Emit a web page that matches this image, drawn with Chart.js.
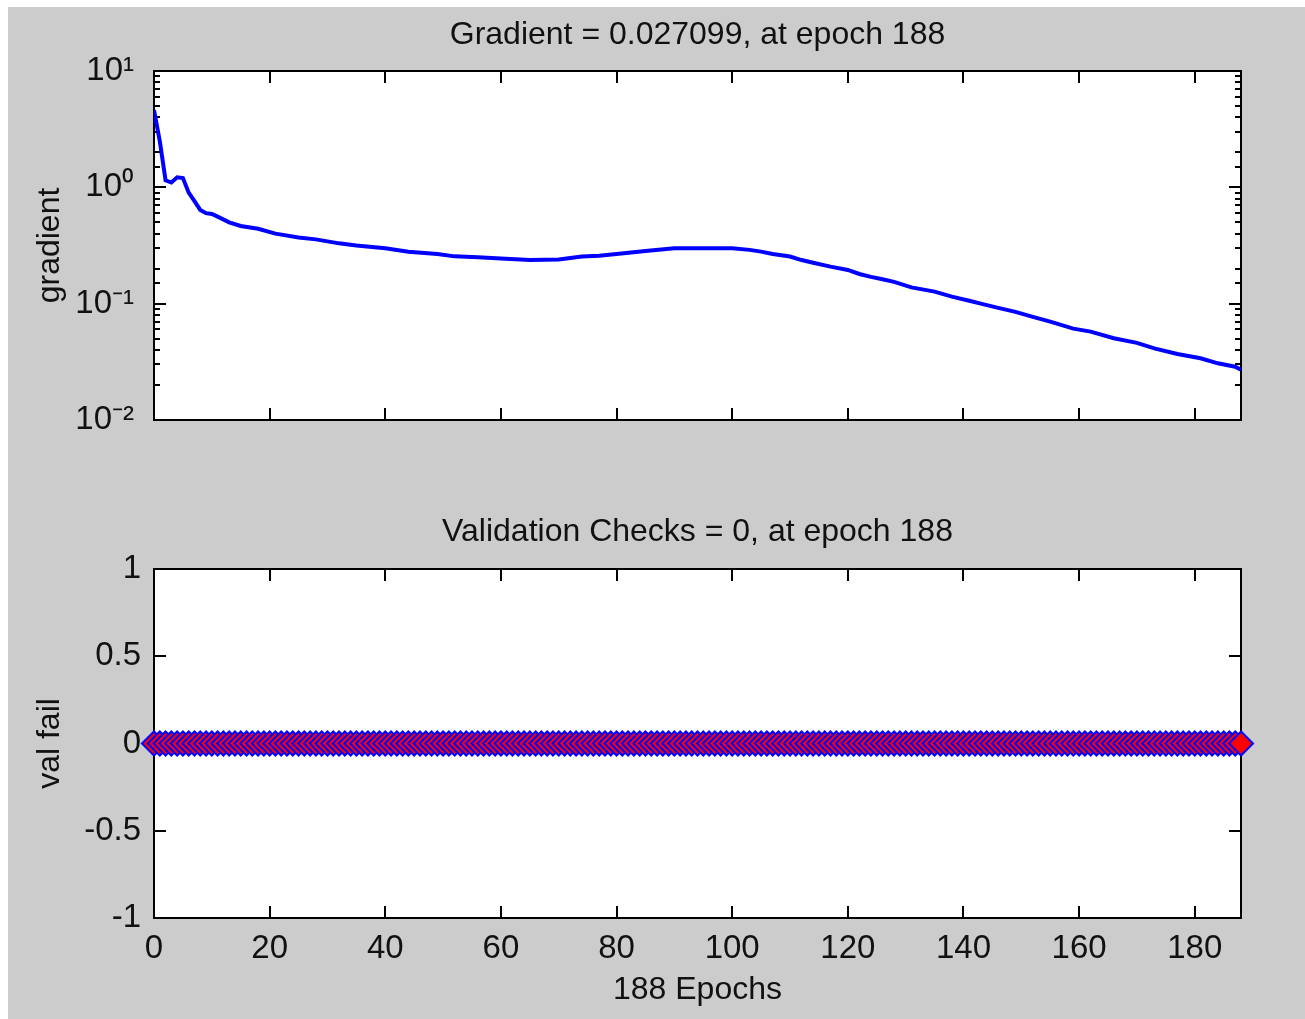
<!DOCTYPE html>
<html><head><meta charset="utf-8">
<script src="https://cdn.jsdelivr.net/npm/chart.js@4.4.1/dist/chart.umd.min.js"></script>
<style>
html,body{margin:0;padding:0;background:#fff;width:1305px;height:1019px;overflow:hidden;}
#bg{position:absolute;left:8px;top:7px;width:1297px;height:1012px;background:#cccccc;}
canvas{position:absolute;left:0;}
#c1{top:0px}
#c2{top:480px}
</style></head><body>
<div id="bg"></div>
<canvas id="c1" width="1305" height="480"></canvas>
<canvas id="c2" width="1305" height="539"></canvas>
<script>
// ---- data ----
const gradTitle = 'Gradient = 0.027099, at epoch 188';
const valTitle = 'Validation Checks = 0, at epoch 188';
const gradYLabel = 'gradient';
const valYLabel = 'val fail';
const xLabel = '188 Epochs';

const gradEpochs = [0,1,2,3,4,5,6,7,8,9,10,11,13,15,18,21,25,28,32,35,40,44,49,52,56,60,65,70,74,77,80,85,90,95,100,103,105,107,110,112,114,117,120,122,124,126,128,131,135,138,141,143,146,149,152,155,159,162,166,170,173,177,181,184,187,188];
const gradValues = [4.6,2.5,1.15,1.1,1.22,1.2,0.9,0.76,0.64,0.6,0.59,0.56,0.5,0.465,0.44,0.40,0.37,0.357,0.33,0.316,0.30,0.28,0.267,0.255,0.25,0.245,0.237,0.24,0.254,0.258,0.267,0.284,0.30,0.30,0.30,0.29,0.28,0.267,0.254,0.237,0.225,0.208,0.195,0.18,0.17,0.162,0.154,0.138,0.127,0.115,0.106,0.1,0.092,0.085,0.077,0.07,0.061,0.0575,0.0504,0.046,0.0413,0.0369,0.0339,0.0307,0.0287,0.0271];

const valFail = [
0,0,0,0,0,0,0,0,0,0,0,0,0,0,0,0,0,0,0,0,
0,0,0,0,0,0,0,0,0,0,0,0,0,0,0,0,0,0,0,0,
0,0,0,0,0,0,0,0,0,0,0,0,0,0,0,0,0,0,0,0,
0,0,0,0,0,0,0,0,0,0,0,0,0,0,0,0,0,0,0,0,
0,0,0,0,0,0,0,0,0,0,0,0,0,0,0,0,0,0,0,0,
0,0,0,0,0,0,0,0,0,0,0,0,0,0,0,0,0,0,0,0,
0,0,0,0,0,0,0,0,0,0,0,0,0,0,0,0,0,0,0,0,
0,0,0,0,0,0,0,0,0,0,0,0,0,0,0,0,0,0,0,0,
0,0,0,0,0,0,0,0,0,0,0,0,0,0,0,0,0,0,0,0,
0,0,0,0,0,0,0,0,0];

const xTickValues = [0,20,40,60,80,100,120,140,160,180];
const xTickLabels = ['0','20','40','60','80','100','120','140','160','180'];
const gradTickExps = [-2,-1,0,1];
const gradTickLabels = ['10\u207B\u00B2','10\u207B\u00B9','10\u2070','10\u00B9'];
const valTickValues = [-1,-0.5,0,0.5,1];
const valTickLabels = ['-1','-0.5','0','0.5','1'];

// ---- styling ----
const FONT = "'Liberation Sans', Arial, sans-serif";
const TXT = '#111';

function isPow10(v){ const l = Math.log10(v); return Math.abs(l - Math.round(l)) < 1e-6; }

const matlabAxes = {
  id: 'matlabAxes',
  beforeDraw(chart){
    const a = chart.chartArea, ctx = chart.ctx;
    ctx.save(); ctx.fillStyle = '#fff';
    ctx.fillRect(a.left, a.top, a.right - a.left, a.bottom - a.top);
    ctx.restore();
  },
  beforeDatasetsDraw(chart){
    const a = chart.chartArea, ctx = chart.ctx;
    ctx.save();
    ctx.strokeStyle = '#000'; ctx.lineWidth = 2;
    ctx.strokeRect(a.left, a.top, a.right - a.left, a.bottom - a.top);
    ctx.beginPath();
    const xs = chart.scales.x;
    xs.ticks.forEach(t => {
      const px = Math.round(xs.getPixelForValue(t.value));
      ctx.moveTo(px, a.bottom); ctx.lineTo(px, a.bottom - 12);
      ctx.moveTo(px, a.top); ctx.lineTo(px, a.top + 12);
    });
    const ys = chart.scales.y;
    ys.ticks.forEach(t => {
      const py = Math.round(ys.getPixelForValue(t.value));
      const len = (ys.type !== 'logarithmic' || isPow10(t.value)) ? 12 : 6;
      ctx.moveTo(a.left, py); ctx.lineTo(a.left + len, py);
      ctx.moveTo(a.right, py); ctx.lineTo(a.right - len, py);
    });
    ctx.stroke();
    ctx.restore();
  }
};

const tickFont = {family: FONT, size: 33};
const titleFont = {family: FONT, size: 32, weight: 'normal'};

new Chart(document.getElementById('c1'), {
  type: 'line',
  data: { datasets: [{
    data: gradEpochs.map((e, i) => ({x: e, y: gradValues[i]})),
    borderColor: '#0000ff', borderWidth: 4, pointRadius: 0, tension: 0, fill: false
  }]},
  options: {
    responsive: false, animation: false, events: [],
    layout: {padding: {left: 0, right: 64, top: 0, bottom: 0}},
    plugins: {
      legend: {display: false}, tooltip: {enabled: false},
      title: {display: true, text: gradTitle, color: TXT, font: titleFont, padding: {top: 16, bottom: 16.6}, fullSize: false}
    },
    scales: {
      x: {type: 'linear', min: 0, max: 188,
          grid: {display: false, drawTicks: false}, border: {display: false},
          ticks: {display: false, stepSize: 20, includeBounds: false},
          afterBuildTicks(s){ s.ticks = xTickValues.map(v => ({value: v})); },
          afterFit(s){ s.height = 60; }},
      y: {type: 'logarithmic', min: 0.01, max: 10,
          grid: {display: false, drawTicks: false}, border: {display: false},
          ticks: {autoSkip: false, padding: 20, color: TXT, font: tickFont,
            callback: (v) => { const i = gradTickExps.findIndex(e => Math.abs(Math.log10(v) - e) < 1e-6); return i >= 0 ? gradTickLabels[i] : ''; }},
          title: {display: true, text: gradYLabel, color: TXT, font: titleFont, padding: {top: 31, bottom: 0}},
          afterFit(s){ s.width = 154; }}
    }
  },
  plugins: [matlabAxes]
});

new Chart(document.getElementById('c2'), {
  type: 'line',
  data: { datasets: [{
    data: valFail.map((v, i) => ({x: i, y: v})),
    showLine: false, clip: false,
    pointStyle: 'rectRot', pointRadius: 12,
    pointBackgroundColor: '#ff0000', pointBorderColor: '#0000ff', pointBorderWidth: 2
  }]},
  options: {
    responsive: false, animation: false, events: [],
    layout: {padding: {left: 0, right: 64, top: 0, bottom: 0}},
    plugins: {
      legend: {display: false}, tooltip: {enabled: false},
      title: {display: true, text: valTitle, color: TXT, font: titleFont, padding: {top: 32.8, bottom: 17.8}, fullSize: false}
    },
    scales: {
      x: {type: 'linear', min: 0, max: 188,
          grid: {display: false, drawTicks: false}, border: {display: false},
          ticks: {autoSkip: false, maxRotation: 0, padding: 11, color: TXT, font: tickFont,
            callback: (v) => { const i = xTickValues.indexOf(v); return i >= 0 ? xTickLabels[i] : ''; }},
          afterBuildTicks(s){ s.ticks = xTickValues.map(v => ({value: v})); },
          title: {display: true, text: xLabel, color: TXT, font: titleFont, padding: {top: 0, bottom: 10}},
          afterFit(s){ s.height = 101; }},
      y: {type: 'linear', min: -1, max: 1,
          grid: {display: false, drawTicks: false}, border: {display: false},
          ticks: {autoSkip: false, padding: 13, color: TXT, font: tickFont,
            callback: (v) => { const i = valTickValues.indexOf(v); return i >= 0 ? valTickLabels[i] : ''; }},
          afterBuildTicks(s){ s.ticks = valTickValues.map(v => ({value: v})); },
          title: {display: true, text: valYLabel, color: TXT, font: titleFont, padding: {top: 31, bottom: 0}},
          afterFit(s){ s.width = 154; }}
    }
  },
  plugins: [matlabAxes]
});
</script>
</body></html>
